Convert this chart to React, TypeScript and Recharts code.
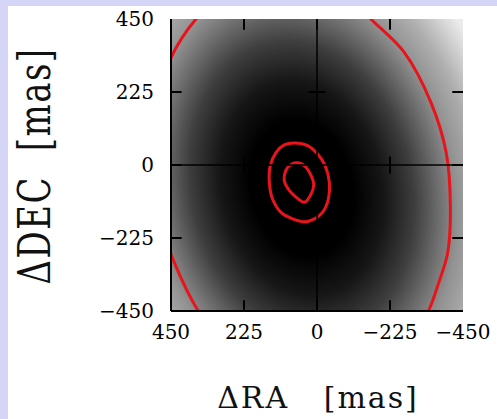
import React from 'react';
import { LineChart, Line, XAxis, YAxis, CartesianGrid, ReferenceLine, Label } from 'recharts';

const RA_TICKS = [450, 225, 0, -225, -450];
const DEC_TICKS = [-450, -225, 0, 225, 450];
const CROSS_TICKS = [225, -225];

// large contour (partly outside the plotted window)
const outerContour = [
  { x: 505, y: -50 }, { x: 500, y: 150 }, { x: 450, y: 330 }, { x: 373, y: 450 },
  { x: 330, y: 490 }, { x: 228, y: 552 }, { x: 112, y: 573 }, { x: -8, y: 552 },
  { x: -125, y: 495 }, { x: -166, y: 450 }, { x: -269, y: 347 }, { x: -351, y: 193 },
  { x: -398, y: 39 }, { x: -411, y: -125 }, { x: -403, y: -269 }, { x: -372, y: -372 },
  { x: -346, y: -444 }, { x: -300, y: -525 }, { x: -233, y: -599 }, { x: -125, y: -660 },
  { x: -12, y: -683 }, { x: 110, y: -660 }, { x: 225, y: -599 }, { x: 300, y: -535 },
  { x: 366, y: -450 }, { x: 440, y: -300 }, { x: 485, y: -170 },
];

const midContour = [
  { x: 70, y: 68 }, { x: 29, y: 60 }, { x: -2, y: 34 }, { x: -25, y: -2 },
  { x: -38, y: -53 }, { x: -35, y: -105 }, { x: -17, y: -146 }, { x: 8, y: -166 },
  { x: 39, y: -175 }, { x: 75, y: -166 }, { x: 111, y: -146 }, { x: 137, y: -105 },
  { x: 147, y: -53 }, { x: 144, y: -2 }, { x: 126, y: 39 }, { x: 101, y: 62 },
];

const innerContour = [
  { x: 54, y: 6 }, { x: 34, y: -7 }, { x: 18, y: -33 }, { x: 10, y: -59 },
  { x: 18, y: -89 }, { x: 39, y: -115 }, { x: 60, y: -103 }, { x: 85, y: -79 },
  { x: 101, y: -48 }, { x: 96, y: -17 }, { x: 78, y: 3 },
];

const CROSS_TICK_HALF = 26;
const BORDER_TICK = 33;
const RED = '#e8141c';

const crossTickSegments = [
  ...CROSS_TICKS.map((v) => [{ x: v, y: -CROSS_TICK_HALF }, { x: v, y: CROSS_TICK_HALF }]),
  ...CROSS_TICKS.map((v) => [{ x: -CROSS_TICK_HALF, y: v }, { x: CROSS_TICK_HALF, y: v }]),
];

const innerRa = RA_TICKS.filter((v) => Math.abs(v) < 450);
const innerDec = DEC_TICKS.filter((v) => Math.abs(v) < 450);
const borderTickSegments = [
  ...innerRa.map((v) => [{ x: v, y: -450 }, { x: v, y: -450 + BORDER_TICK }]),
  ...innerRa.map((v) => [{ x: v, y: 450 }, { x: v, y: 450 - BORDER_TICK }]),
  ...innerDec.map((v) => [{ x: 450, y: v }, { x: 450 - BORDER_TICK, y: v }]),
  ...innerDec.map((v) => [{ x: -450, y: v }, { x: -450 + BORDER_TICK, y: v }]),
];

const closedSmooth = (context: any) => {
  let pts: number[][] = [];
  return {
    areaStart() {},
    areaEnd() {},
    lineStart() { pts = []; },
    point(x: number, y: number) { pts.push([+x, +y]); },
    lineEnd() {
      const n = pts.length;
      if (!n) return;
      const alpha = 0.5;
      const eps = 1e-9;
      context.moveTo(pts[0][0], pts[0][1]);
      for (let i = 0; i < n; i++) {
        const p0 = pts[(i - 1 + n) % n];
        const p1 = pts[i];
        const p2 = pts[(i + 1) % n];
        const p3 = pts[(i + 2) % n];
        const d01 = Math.hypot(p1[0] - p0[0], p1[1] - p0[1]);
        const d12 = Math.hypot(p2[0] - p1[0], p2[1] - p1[1]);
        const d23 = Math.hypot(p3[0] - p2[0], p3[1] - p2[1]);
        const l01a = Math.pow(d01, alpha), l12a = Math.pow(d12, alpha), l23a = Math.pow(d23, alpha);
        const l01_2a = l01a * l01a, l12_2a = l12a * l12a, l23_2a = l23a * l23a;
        let c1x = p1[0], c1y = p1[1], c2x = p2[0], c2y = p2[1];
        if (l01a > eps) {
          const a = 2 * l01_2a + 3 * l01a * l12a + l12_2a;
          const m = 3 * l01a * (l01a + l12a);
          c1x = (p1[0] * a - p0[0] * l12_2a + p2[0] * l01_2a) / m;
          c1y = (p1[1] * a - p0[1] * l12_2a + p2[1] * l01_2a) / m;
        }
        if (l23a > eps) {
          const b = 2 * l23_2a + 3 * l23a * l12a + l12_2a;
          const m = 3 * l23a * (l23a + l12a);
          c2x = (p2[0] * b + p1[0] * l23_2a - p3[0] * l12_2a) / m;
          c2y = (p2[1] * b + p1[1] * l23_2a - p3[1] * l12_2a) / m;
        }
        context.bezierCurveTo(c1x, c1y, c2x, c2y, p2[0], p2[1]);
      }
      context.closePath();
    },
  };
};

const fmt = (v: number) => (v < 0 ? `\u2212${-v}` : `${v}`);
const tickStyle = { fill: '#000', fontSize: 20, fontFamily: 'DejaVu Serif' };

const XTitle = () => (
  <text x={318} y={408} textAnchor="middle" fontFamily="DejaVu Serif" fontSize={30} letterSpacing={2} fill="#111">
    {'\u0394RA\u00a0\u00a0\u00a0[mas]'}
  </text>
);

const YTitle = () => (
  <text
    transform="translate(50,166) rotate(-90) scale(1,1.3)"
    x={0}
    y={0}
    textAnchor="middle"
    fontFamily="DejaVu Serif"
    fontSize={34}
    letterSpacing={1.5}
    fill="#111"
  >
    {'\u0394DEC\u00a0\u00a0[mas]'}
  </text>
);

export default function App() {
  return (
    <div style={{ position: 'absolute', left: 0, top: 0, width: 497, height: 419, background: '#d5d5f7', overflow: 'hidden' }}>
      <div style={{ position: 'absolute', left: 8, top: 6, right: 0, bottom: 0, background: '#ffffff' }} />
      <svg width={0} height={0} style={{ position: 'absolute' }}>
        <defs>
          <radialGradient
            id="bgGrad"
            gradientUnits="userSpaceOnUse"
            cx={0}
            cy={0}
            r={1.45}
            gradientTransform="matrix(148 0 19 194 302 188)"
          >
            <stop offset="0" stopColor="#000000" />
            <stop offset="0.24" stopColor="#000000" />
            <stop offset="0.38" stopColor="#161616" />
            <stop offset="0.52" stopColor="#3e3e3e" />
            <stop offset="0.62" stopColor="#686868" />
            <stop offset="0.72" stopColor="#929292" />
            <stop offset="0.83" stopColor="#adadad" />
            <stop offset="1" stopColor="#ececec" />
          </radialGradient>
        </defs>
      </svg>
      <div style={{ position: 'absolute', left: 0, top: 0 }}>
        <LineChart width={497} height={419} margin={{ top: 19, right: 34, bottom: 78, left: 111 }}>
          <CartesianGrid horizontal={false} vertical={false} fill="url(#bgGrad)" fillOpacity={1} stroke="none" />
          <XAxis
            dataKey="x"
            type="number"
            domain={[-450, 450]}
            reversed
            allowDataOverflow
            ticks={RA_TICKS}
            interval={0}
            tickFormatter={fmt}
            tick={tickStyle}
            tickSize={-10}
            tickMargin={24}
            height={30}
            axisLine={{ stroke: '#000', strokeWidth: 2 }}
            tickLine={false}
          >
            <Label content={XTitle} />
          </XAxis>
          <XAxis
            xAxisId="top"
            dataKey="x"
            type="number"
            orientation="top"
            domain={[-450, 450]}
            reversed
            allowDataOverflow
            ticks={RA_TICKS}
            tick={false}
            tickLine={false}
            height={0}
            axisLine={{ stroke: '#000', strokeWidth: 2 }}
          />
          <YAxis
            type="number"
            domain={[-450, 450]}
            allowDataOverflow
            ticks={DEC_TICKS}
            interval={0}
            tickFormatter={fmt}
            tick={tickStyle}
            tickSize={-10}
            tickMargin={27}
            width={60}
            axisLine={{ stroke: '#000', strokeWidth: 2 }}
            tickLine={false}
          >
            <Label content={YTitle} />
          </YAxis>
          <YAxis
            yAxisId="right"
            orientation="right"
            type="number"
            domain={[-450, 450]}
            allowDataOverflow
            ticks={DEC_TICKS}
            tick={false}
            tickLine={false}
            width={0}
            axisLine={{ stroke: '#000', strokeWidth: 2 }}
          />
          <Line data={outerContour} dataKey="y" type={closedSmooth as any} stroke={RED} strokeWidth={3} dot={false} isAnimationActive={false} />
          <Line data={midContour} dataKey="y" type={closedSmooth as any} stroke={RED} strokeWidth={3} dot={false} isAnimationActive={false} />
          <Line data={innerContour} dataKey="y" type={closedSmooth as any} stroke={RED} strokeWidth={3} dot={false} isAnimationActive={false} />
          <ReferenceLine x={0} stroke="#000" strokeWidth={1.5} />
          <ReferenceLine y={0} stroke="#000" strokeWidth={1.5} />
          {[...crossTickSegments, ...borderTickSegments].map((seg, i) => (
            <Line
              key={`tk${i}`}
              data={seg}
              dataKey="y"
              type="linear"
              stroke="#000"
              strokeWidth={2}
              dot={false}
              isAnimationActive={false}
            />
          ))}
        </LineChart>
      </div>
    </div>
  );
}
